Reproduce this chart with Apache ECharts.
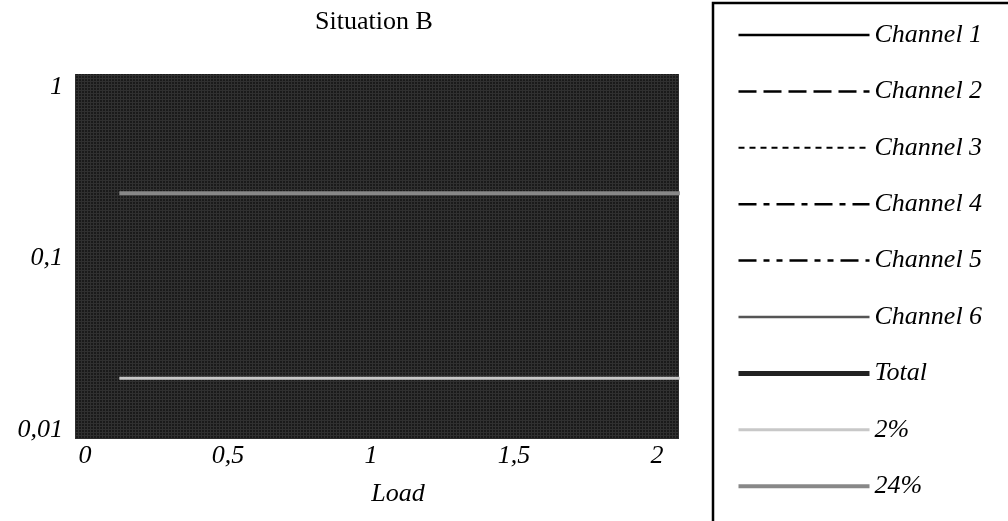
<!DOCTYPE html>
<html>
<head>
<meta charset="utf-8">
<script src="https://cdn.jsdelivr.net/npm/echarts@6/dist/echarts.min.js"></script>
<style>html,body{margin:0;padding:0;background:#fff;}#c{width:1008px;height:521px;}</style>
</head>
<body>
<div id="c"></div>
<script>
// ---- data ----
const titleText = 'Situation B';
const xAxisName = 'Load';
const xTicks = [0, 0.5, 1, 1.5, 2];
const yTicks = [0.01, 0.1, 1];
const loadRange = [0.12, 2.08];
const seriesNames = ['Channel 1','Channel 2','Channel 3','Channel 4','Channel 5','Channel 6','Total','2%','24%'];
const channel1 = [];
const channel2 = [];
const channel3 = [];
const channel4 = [];
const channel5 = [];
const channel6 = [];
const total = [];
const level2 = [0.02, 0.02];
const level24 = [0.24, 0.24];

function fmt(v){ return String(v).replace('.', ','); }

// background pattern
const pc = document.createElement('canvas');
pc.width = 3; pc.height = 3;
const pctx = pc.getContext('2d');
pctx.fillStyle = '#1a1a1a'; pctx.fillRect(0,0,3,3);
pctx.fillStyle = '#303030'; pctx.fillRect(0,0,3,1); pctx.fillRect(0,0,1,3);

const chart = echarts.init(document.getElementById('c'), null, {renderer:'canvas'});
const serif = '"Liberation Serif", "Times New Roman", serif';

const styles = [
  {color:'#000', width:2.5, type:'solid'},
  {color:'#000', width:2.5, type:[18,7]},
  {color:'#000', width:2, type:[6,5]},
  {color:'#000', width:2.5, type:[18,7,6,7]},
  {color:'#000', width:2.5, type:[18,7,6,7,6,7]},
  {color:'#555', width:2.5, type:'solid'},
  {color:'#222', width:5, type:'solid'},
  {color:'#c8c8c8', width:3, type:'solid'},
  {color:'#888', width:4, type:'solid'}
];
const datas = [channel1, channel2, channel3, channel4, channel5, channel6, total,
  loadRange.map((x,i)=>[x, level2[i]]), loadRange.map((x,i)=>[x, level24[i]])];

const series = seriesNames.map((n,i)=>({
  name:n, type:'line', data:datas[i], symbol:'none', showSymbol:false,
  lineStyle:{color:styles[i].color, width:styles[i].width, type:styles[i].type, cap:'butt'},
  itemStyle:{color:styles[i].color},
  emphasis:{disabled:true}, animation:false, clip:true
}));

const legendData = seriesNames.map((n,i)=>({
  name:n,
  itemStyle:{color:'rgba(0,0,0,0)', opacity:0, borderWidth:0},
  lineStyle:{color:styles[i].color, width:styles[i].width, type:styles[i].type, cap:'butt'}
}));

chart.setOption({
  animation:false,
  title:{text:titleText, left:310, top:4, textStyle:{fontFamily:serif, fontSize:26, fontWeight:'normal', color:'#000'}},
  graphic:[{type:'rect', shape:{x:713, y:3, width:400, height:600}, style:{fill:null, stroke:'#000', lineWidth:2.5}, silent:true}],
  legend:{
    orient:'vertical', left:731, top:15, itemWidth:131, itemHeight:14, itemGap:26.4,
    data:legendData, selectedMode:false,
    textStyle:{fontFamily:serif, fontStyle:'italic', fontSize:26, color:'#000', lineHeight:30}
  },
  grid:{left:75, top:74, right:329, bottom:82, show:true, backgroundColor:{image:pc, repeat:'repeat'}, borderWidth:0},
  xAxis:{
    type:'value', min:-0.035, max:2.077,
    name:xAxisName, nameLocation:'middle', nameGap:42,
    nameTextStyle:{fontFamily:serif, fontStyle:'italic', fontSize:26, color:'#000', padding:[0,0,0,42]},
    axisLine:{show:false}, axisTick:{show:false}, splitLine:{show:false},
    axisLabel:{customValues:xTicks, formatter:fmt, margin:4, fontFamily:serif, fontStyle:'italic', fontSize:26, color:'#000'}
  },
  yAxis:{
    type:'log', logBase:10, min:0.00886, max:1.191,
    axisLine:{show:false}, axisTick:{show:false}, splitLine:{show:false},
    axisLabel:{customValues:yTicks, formatter:fmt, margin:12, fontFamily:serif, fontStyle:'italic', fontSize:26, color:'#000'}
  },
  series:series
});
</script>
</body>
</html>
